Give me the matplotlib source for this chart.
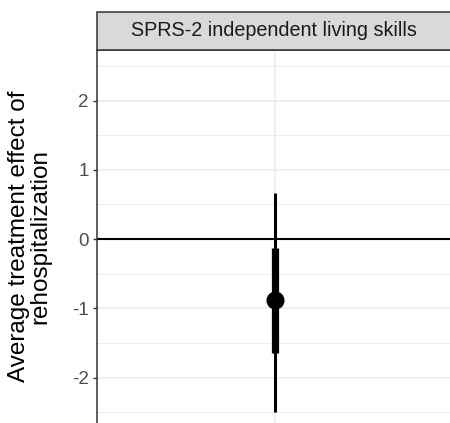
import matplotlib.pyplot as plt
from matplotlib.patches import Rectangle

# data
outcome = "SPRS-2 independent living skills"
estimate = [-0.88]
ci_inner_low = [-1.64]
ci_inner_high = [-0.125]
ci_outer_low = [-2.49]
ci_outer_high = [0.668]
x_pos = [1]

plt.rcParams["font.family"] = ["Liberation Sans", "DejaVu Sans"]

fig = plt.figure(figsize=(4.5, 4.23), dpi=100)
ax = fig.add_axes([97 / 450, 0.0, 356 / 450, 1 - 50 / 423])

# grid
ax.set_axisbelow(True)
ax.set_yticks([-2, -1, 0, 1, 2])
ax.set_yticks([-2.5, -1.5, -0.5, 0.5, 1.5, 2.5], minor=True)
ax.set_xticks(x_pos)
ax.grid(True, which="major", color="#EBEBEB", linewidth=1.1)
ax.grid(True, which="minor", axis="y", color="#EBEBEB", linewidth=0.6)

ax.axhline(0, color="black", linewidth=1.5, zorder=2)

ax.vlines(x_pos, ci_outer_low, ci_outer_high, color="black", linewidth=2.2, zorder=3)
ax.vlines(x_pos, ci_inner_low, ci_inner_high, color="black", linewidth=5.2, zorder=4)
ax.plot(x_pos, estimate, "o", color="black", markersize=12, zorder=5)

ax.set_xlim(0.5, 1.5)
ax.set_ylim(-2.655, 2.73)

for side in ["left", "top"]:
    ax.spines[side].set_color("#333333")
    ax.spines[side].set_linewidth(1.1)
ax.spines["right"].set_visible(False)
ax.spines["bottom"].set_visible(False)

ax.tick_params(axis="y", which="major", length=3, width=1, color="#333333",
               labelsize=13.5, labelcolor="#4D4D4D", pad=3)
ax.tick_params(axis="y", which="minor", length=0)
ax.tick_params(axis="x", length=0, labelbottom=False)
ax.set_yticklabels(["-2", "-1", "0", "1", "2"])

ax.set_ylabel("Average treatment effect of\nrehospitalization", fontsize=17.5,
              color="black", labelpad=15, linespacing=0.95)

# facet strip
strip = Rectangle((97 / 450, 1 - 50 / 423), 356 / 450, 38 / 423,
                  transform=fig.transFigure, facecolor="#D9D9D9",
                  edgecolor="#333333", linewidth=1.1, clip_on=False)
fig.patches.append(strip)
fig.text((97 + 177) / 450, 1 - 31 / 423, outcome, ha="center", va="center",
         fontsize=14.2, color="#1A1A1A")

fig.savefig("out.png", dpi=100)
